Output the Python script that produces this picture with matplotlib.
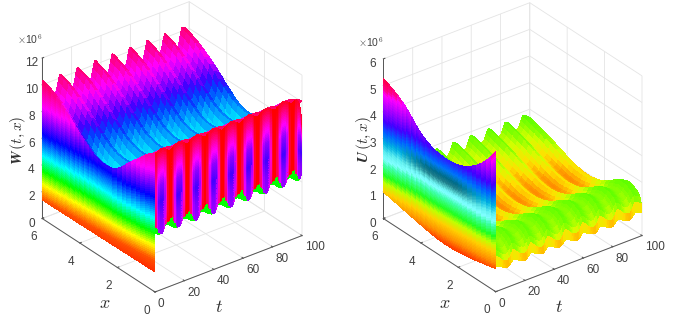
import numpy as np
import matplotlib
matplotlib.use("Agg")
import matplotlib.pyplot as plt
from matplotlib.colors import LinearSegmentedColormap, hsv_to_rgb
from mpl_toolkits.mplot3d import proj3d

plt.rcParams['font.family'] = ['Liberation Sans', 'DejaVu Sans']
plt.rcParams['mathtext.fontset'] = 'cm'

t_ticks = [0, 20, 40, 60, 80, 100]
x_ticks = [0, 2, 4, 6]
W_ticks = [0, 2, 4, 6, 8, 10, 12]
U_ticks = [0, 1, 2, 3, 4, 5, 6]

# ripple of the surface along t, read per sample (0 = trough, 1 = crest)
ripple = [
 1, .96, .86, .7, .52, .34, .2, .1, .05, .12, .35, .7,
 1, .96, .86, .7, .52, .34, .2, .1, .05, .12, .35, .7,
 1, .96, .86, .7, .52, .34, .2, .1, .05, .12, .35, .7,
 1, .96, .86, .7, .52, .34, .2, .1, .05, .12, .35, .7,
 1, .96, .86, .7, .52, .34, .2, .1, .05, .12, .35, .7,
 1, .96, .86, .7, .52, .34, .2, .1, .05, .12, .35, .7,
 1, .96, .86, .7, .52, .34, .2, .1, .05, .12, .35, .7,
 1, .96, .86, .7, .52, .34, .2, .1, .05, .12, .35, .7,
 1, .98, .92, .84, .74, .62]

W_x = [0, .25, .5, .75, 1, 1.25, 1.5, 1.75, 2, 2.25, 2.5, 2.75, 3, 3.25, 3.5, 3.75, 4, 4.25, 4.5, 4.75, 5, 5.25, 5.5, 5.75, 6]
W_crest = [10.4, 10.15, 9.8, 9.4, 9.0, 8.6, 8.2, 7.75, 7.4, 7.15, 7.1, 7.1, 7.2, 7.35, 7.6, 7.9, 8.2, 8.55, 8.9, 9.2, 9.5, 9.75, 10.0, 10.15, 10.3]
W_trough = [9.4, 8.9, 8.4, 7.9, 7.4, 7.0, 6.6, 6.2, 5.8, 5.5, 5.4, 5.4, 5.5, 5.7, 5.9, 6.3, 6.6, 7.0, 7.3, 7.6, 7.9, 8.2, 8.4, 8.6, 8.7]
W_start = [1.5, 1.5, 1.5, 1.49, 1.49, 1.48, 1.48, 1.47, 1.47, 1.46, 1.46, 1.45, 1.45, 1.45, 1.44, 1.44, 1.43, 1.43, 1.42, 1.42, 1.41, 1.41, 1.4, 1.4, 1.4]

wall_top = [
 10.3, 10.38, 10.45, 10.5, 10.55, 10.55, 10.5, 10.42, 10.32, 10.24, 10.18, 10.18,
 10.3, 10.38, 10.45, 10.5, 10.55, 10.55, 10.5, 10.42, 10.32, 10.24, 10.18, 10.18,
 10.3, 10.38, 10.45, 10.5, 10.55, 10.55, 10.5, 10.42, 10.32, 10.24, 10.18, 10.18,
 10.3, 10.38, 10.45, 10.5, 10.55, 10.55, 10.5, 10.42, 10.32, 10.24, 10.18, 10.18,
 10.3, 10.38, 10.45, 10.5, 10.55, 10.55, 10.5, 10.42, 10.32, 10.24, 10.18, 10.18,
 10.3, 10.38, 10.45, 10.5, 10.55, 10.55, 10.5, 10.42, 10.32, 10.24, 10.18, 10.18,
 10.3, 10.38, 10.45, 10.5, 10.55, 10.55, 10.5, 10.42, 10.32, 10.24, 10.18, 10.18,
 10.3, 10.38, 10.45, 10.5, 10.55, 10.55, 10.5, 10.42, 10.32, 10.24, 10.18, 10.18,
 10.3, 10.32, 10.2, 9.95, 9.45, 8.4]
wall_low = [
 4.4, 4.3, 4.25, 4.2, 4.2, 4.2, 4.4, 4.7, 4.7, 4.65, 4.6, 4.5,
 4.4, 4.3, 4.25, 4.2, 4.2, 4.2, 4.4, 4.7, 4.7, 4.65, 4.6, 4.5,
 4.4, 4.3, 4.25, 4.2, 4.2, 4.2, 4.4, 4.7, 4.7, 4.65, 4.6, 4.5,
 4.4, 4.3, 4.25, 4.2, 4.2, 4.2, 4.4, 4.7, 4.7, 4.65, 4.6, 4.5,
 4.4, 4.3, 4.25, 4.2, 4.2, 4.2, 4.4, 4.7, 4.7, 4.65, 4.6, 4.5,
 4.4, 4.3, 4.25, 4.2, 4.2, 4.2, 4.4, 4.7, 4.7, 4.65, 4.6, 4.5,
 4.4, 4.3, 4.25, 4.2, 4.2, 4.2, 4.4, 4.7, 4.7, 4.65, 4.6, 4.5,
 4.4, 4.3, 4.25, 4.2, 4.2, 4.2, 4.4, 4.7, 4.7, 4.65, 4.6, 4.5,
 4.4, 4.3, 4.25, 4.25, 4.4, 4.8]
# top of the green notch on the x=0 wall, per ripple sample
wall_green = [4.95, 4.7, 4.4, 0, 0, 0, 0, 4.85, 5.0, 5.1, 5.25, 5.25]
# hue of the x=0 wall: one row per height fraction, one column per ripple sample
wall_s = [0, .2, .4, .6, .8, 1]
wall_hue = [
 [.98, .97, .97, .97, .97, .97, .97, .98, 1.0, 1.0, 1.0, 1.0],
 [.94, .90, .87, .86, .86, .86, .88, .92, .98, 1.0, 1.0, .98],
 [.90, .82, .78, .76, .76, .76, .80, .88, .97, 1.0, 1.0, .96],
 [.90, .80, .73, .71, .71, .72, .77, .86, .97, 1.0, 1.0, .95],
 [.92, .82, .77, .75, .75, .76, .80, .88, .97, 1.0, 1.0, .95],
 [.92, .82, .78, .77, .77, .78, .82, .92, 1.0, 1.0, 1.0, .96]]

U_x = [0, .05, .12, .25, .5, .75, 1, 1.25, 1.5, 1.75, 2, 2.25, 2.5, 2.75, 3, 3.25, 3.5, 3.75, 4, 4.25, 4.5, 4.75, 5, 5.25, 5.5, 5.75, 6]
U_crest = [.95, 1.35, 1.55, 1.68, 1.78, 1.8, 1.72, 1.6, 1.45, 1.33, 1.23, 1.15, 1.1, 1.07, 1.07, 1.1, 1.15, 1.22, 1.3, 1.38, 1.47, 1.55, 1.63, 1.7, 1.76, 1.82, 1.86]
U_trough = [.75, 1.0, 1.2, 1.35, 1.5, 1.55, 1.5, 1.38, 1.22, 1.1, .98, .88, .83, .79, .77, .78, .8, .85, .9, .96, 1.03, 1.1, 1.17, 1.24, 1.3, 1.36, 1.4]
U_shift = [.18, .22, .18, .1, .03, 0, 0, 0, 0, 0, 0, 0, 0, 0, 0, 0, 0, 0, 0, 0, 0, 0, 0, 0, 0, 0, 0]
U_bx = [0, .25, .5, .75, 1, 1.25, 1.5, 1.75, 2, 2.25, 2.5, 2.75, 3, 3.25, 3.5, 3.75, 4, 4.25, 4.5, 4.75, 5, 5.25, 5.5, 5.75, 6]
U_top = [5.25, 4.95, 4.7, 4.48, 4.3, 4.15, 4.02, 3.92, 3.85, 3.8, 3.78, 3.78, 3.8, 3.83, 3.9, 4.0, 4.12, 4.3, 4.5, 4.7, 4.85, 4.98, 5.08, 5.18, 5.25]
U_low = [.87, .82, .78, .74, .7, .66, .63, .6, .58, .56, .55, .55, .56, .58, .61, .64, .68, .72, .76, .8, .84, .88, .92, .96, 1.0]
U_dark = [0, 0, 0, .08, .15, .22, .3, .36, .4, .4, .4, .4, .4, .4, .38, .34, .28, .22, .15, .08, 0, 0, 0, 0, 0]

def cmap(stops):
    lo, hi = stops[0][0], stops[-1][0]
    return LinearSegmentedColormap.from_list(
        'c', [((v - lo) / (hi - lo), c) for v, c in stops], N=512), lo, hi

W_ridge_map = cmap([(5.0, '#00ffd0'), (6.4, '#00e0ff'), (7.0, '#0090ff'), (7.5, '#0040ff'), (8.0, '#4000ff'),
                    (8.6, '#b000ff'), (9.1, '#ff00ff'), (9.7, '#ff00a0'), (10.6, '#ff0040')])
W_band_map = cmap([(.3, '#ff2000'), (1.4, '#ff5000'), (2.5, '#ffff00'), (3.5, '#00ff00'), (4.6, '#00ffff'),
                   (6.2, '#0000ff'), (8.2, '#ff00ff'), (10.4, '#ff0040')])
U_ridge_map = cmap([(.7, '#ff7000'), (.85, '#ffa000'), (1.05, '#ffe000'), (1.3, '#d0ff00'), (1.5, '#90ff00'), (1.9, '#50ff00')])
U_band_map = cmap([(.3, '#ff4000'), (.6, '#ff9000'), (1.0, '#ffd000'), (1.3, '#c0ff00'), (1.6, '#20ff20'),
                   (2.0, '#40ffb0'), (2.2, '#80ffff'), (2.45, '#60f0f0'), (2.8, '#00b0e0'), (3.2, '#0060ff'),
                   (3.6, '#4000ff'), (4.0, '#9000ff'), (4.6, '#ff00ff'), (4.8, '#ff0090'), (5.25, '#ff0030')])

def apply(m, z):
    c, lo, hi = m
    return c((np.asarray(z) - lo) / (hi - lo))

def setup(rect, zticks):
    ax = fig.add_axes(rect, projection='3d', proj_type='ortho', computed_zorder=False)
    ax.view_init(elev=30, azim=-127.5)
    ax.set_xlim(0, 100); ax.set_ylim(0, 6); ax.set_zlim(0, zticks[-1])
    ax.set_xticks(t_ticks); ax.set_yticks(x_ticks); ax.set_zticks(zticks)
    ax.patch.set_alpha(0)
    for a in (ax.xaxis, ax.yaxis, ax.zaxis):
        a.set_pane_color((1, 1, 1, 0))
        a.pane.set_edgecolor('#e6e6e6')
        a.line.set_color('#555555'); a.line.set_linewidth(.7)
        a._axinfo['grid'].update(color='#e4e4e4', linewidth=.6)
        a._axinfo['tick'].update(inward_factor=0.0, outward_factor=0.12)
    ax.tick_params(labelsize=8.5, labelcolor='#404040', color='#555555', width=.6)
    ax.tick_params(axis='x', pad=-5); ax.tick_params(axis='y', pad=-1); ax.tick_params(axis='z', pad=-3)
    for lb in ax.get_xticklabels():
        lb.set_ha('left')
    return ax

def screen(ax, x, y, z):
    xs, ys, _ = proj3d.proj_transform(x, y, z, ax.get_proj())
    return ax.transData.transform((xs, ys))

def fit(ax, origin, t_end):
    fw, fh = 688., 332.
    zoom = 1.0
    for _ in range(3):
        ax.set_box_aspect((1, 1, 1), zoom=zoom)
        a, b = screen(ax, 0, 0, 0), screen(ax, 100, 0, 0)
        zoom *= (t_end[0] - origin[0]) / (b[0] - a[0])
    ax.set_box_aspect((1, 1, 1), zoom=zoom)
    a = screen(ax, 0, 0, 0)
    p = ax.get_position()
    dx = origin[0] - a[0]
    dy = (fh - origin[1]) - a[1]
    ax.set_position([p.x0 + dx / fw, p.y0 + dy / fh, p.width, p.height])

def fig_text(x, y, s, **kw):
    fig.text(x / 688., 1 - y / 332., s, ha='center', va='center', **kw)

fig = plt.figure(figsize=(6.88, 3.32), dpi=100)
S = 320 / 332.
kw = dict(rstride=1, cstride=1, shade=False, antialiased=False, linewidth=0)

# ---------- left: W
ax = setup([.02, .02, S * 332 / 688, S], W_ticks)
t = np.linspace(0, 100, len(ripple))
xw = np.array(W_x)
w = np.array(ripple)[:, None]
crest = np.array(W_crest)
Z = np.array(W_trough) + (crest - np.array(W_trough)) * w
T, X = np.meshgrid(t, xw, indexing='ij')
ax.plot_surface(T, X, Z, facecolors=apply(W_ridge_map, crest - .62 * (crest - Z)), zorder=1, **kw)

s = np.linspace(0, 1, 60)[:, None]
Zb = np.array(W_start) + (crest - np.array(W_start)) * s
Xb = np.tile(xw, (60, 1))
ax.plot_surface(np.zeros_like(Zb), Xb, Zb, facecolors=apply(W_band_map, Zb - .15 * (6 - Xb)), zorder=2, **kw)

s = np.linspace(0, 1, 50)
idx = np.arange(len(t))
top, low = np.array(wall_top), np.array(wall_low)
Zw = np.outer(top, 1 - s) + np.outer(low, s)
hue = np.array(wall_hue)
H = np.array([np.interp(s, wall_s, hue[:, i % 12]) for i in idx])
G = np.array([wall_green[i % 12] for i in idx])[:, None]
H = np.where(Zw < G, .33, H) % 1.0
rgb = hsv_to_rgb(np.dstack([H, np.ones_like(H), np.ones_like(H)]))
Tw = np.tile(t[:, None], (1, 50))
ax.plot_surface(Tw, np.zeros_like(Tw), Zw, facecolors=rgb, zorder=3, **kw)
fit(ax, (155, 292), (302, 237))

# ---------- right: U
ax = setup([.5, .02, S * 332 / 688, S], U_ticks)
xu = np.array(U_x)
Z = np.array(U_trough) + (np.array(U_crest) - np.array(U_trough)) * w
T, X = np.meshgrid(t, xu, indexing='ij')
ax.plot_surface(T, X, Z, facecolors=apply(U_ridge_map, Z + np.array(U_shift)), zorder=1, **kw)

s = np.linspace(0, 1, 70)[:, None]
xb = np.array(U_bx)
Zb = np.array(U_low) + (np.array(U_top) - np.array(U_low)) * s
Xb = np.tile(xb, (70, 1))
zp = Zb - .08 * (6 - Xb)
col = apply(U_band_map, zp)
g = np.clip(1.3 - np.abs(zp - 2.7) / .3, 0, 1) * np.array(U_dark)
col[..., :3] *= (1 - g)[..., None]
ax.plot_surface(np.zeros_like(Zb), Xb, Zb, facecolors=col, zorder=2, **kw)
fit(ax, (495.7, 291.7), (642, 237))

# ---------- labels
lab = dict(color='#303030')
fig_text(219, 307, r'$t$', fontsize=13, **lab)
fig_text(105, 304, r'$x$', fontsize=13, **lab)
fig_text(18, 140, r'$\mathbfit{W}\,(t,x)$', fontsize=11, rotation=90, **lab)
fig_text(559, 307, r'$t$', fontsize=13, **lab)
fig_text(445, 304, r'$x$', fontsize=13, **lab)
fig_text(364, 140, r'$\mathbfit{U}\,(t,x)$', fontsize=11, rotation=90, **lab)
fig_text(30, 39, r'$\times$10$^{6}$', fontsize=7.5, color='#404040')
fig_text(371, 42, r'$\times$10$^{6}$', fontsize=7.5, color='#404040')

fig.savefig('out.png', dpi=100)
